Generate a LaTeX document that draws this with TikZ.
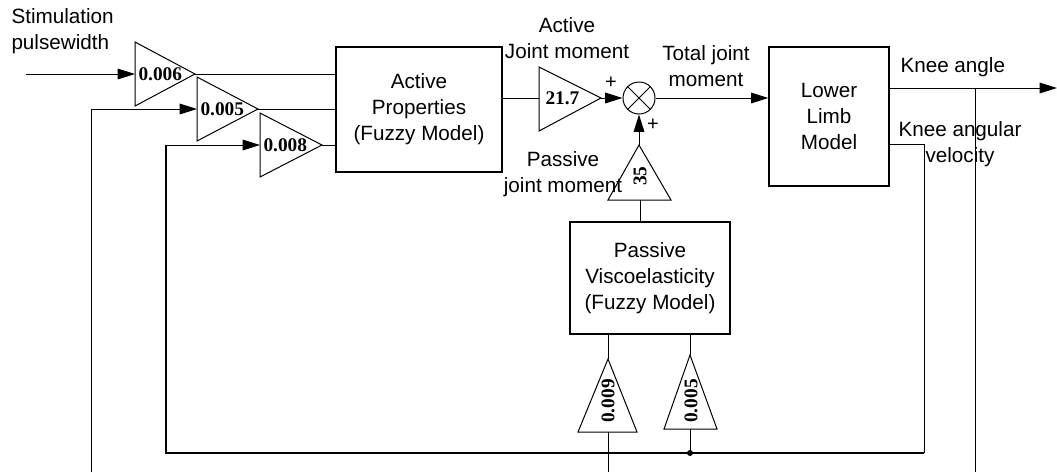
\documentclass[tikz,border=0pt]{standalone}
\usepackage{fontspec}
\setmainfont{Liberation Sans}
\newfontfamily\gainfont{Liberation Serif}
\usetikzlibrary{arrows.meta}
\newdimen\px \px=0.75pt
\begin{document}
\begin{tikzpicture}[x=0.75pt,y=-0.75pt,line width=0.75pt,
  lbl/.style={font=\fontsize{15.5}{19}\selectfont, align=center, inner sep=0},
  gaintxt/.style={font=\gainfont\bfseries\fontsize{14.5}{16}\selectfont, inner sep=0},
  block/.style={draw, line width=1pt, inner sep=0, align=center,
    font=\fontsize{15.5}{19.5}\selectfont},
  arr/.style={-{Triangle[length=13pt,width=8pt]}},
  gainshape/.style={draw, line width=0.75pt, line join=miter},
  loopline/.style={line width=1.3pt},
  sumnode/.style={draw, circle, inner sep=0, minimum size=24pt, line width=0.75pt},
  signlbl/.style={font=\fontsize{15}{15}\selectfont, inner sep=0}
]
\useasboundingbox (0,0) rectangle (1057,472);

% ---- blocks
\node[block, minimum width=166\px, minimum height=125\px] (act) at (419,109.5)
  {Active\\Properties\\(Fuzzy Model)};
\node[block, minimum width=120\px, minimum height=139\px] (limb) at (829,116.5)
  {Lower\\Limb\\Model};
\node[block, minimum width=160\px, minimum height=112\px] (pas) at (650,278)
  {Passive\\Viscoelasticity\\(Fuzzy Model)};
\node[sumnode] (sum) at (639,98) {};
\draw (sum.north west) -- (sum.south east) (sum.north east) -- (sum.south west);

% ---- gain triangles (apex = output, base centre = input)
\draw[gainshape] (135,42) -- (195,74) -- (135,106) -- cycle;
\coordinate (g1in) at (135,74); \coordinate (g1out) at (195,74);
\node[gaintxt, anchor=west] (g1) at (138,74) {0.006};

\draw[gainshape] (197,77) -- (258,109) -- (197,141) -- cycle;
\coordinate (g2in) at (197,109); \coordinate (g2out) at (258,109);
\node[gaintxt, anchor=west] (g2) at (200,109) {0.005};

\draw[gainshape] (260,113) -- (322,145) -- (260,177) -- cycle;
\coordinate (g3in) at (260,145); \coordinate (g3out) at (322,145);
\node[gaintxt, anchor=west] (g3) at (263,145) {0.008};

\draw[gainshape] (539,67) -- (601,98) -- (539,131) -- cycle;
\coordinate (gain) at (539,98); \coordinate (gaout) at (601,98);
\node[gaintxt, anchor=west] (ga) at (545,98) {21.7};

\draw[gainshape] (639,145) -- (671,200) -- (608,200) -- cycle;
\coordinate (gpout) at (639,145); \coordinate (gpin) at (640,200);
\node[gaintxt, rotate=90] (gp) at (640,176) {35};

\draw[gainshape] (608,359) -- (637,432) -- (578,432) -- cycle;
\coordinate (gkout) at (608,359); \coordinate (gkin) at (608,432);
\node[gaintxt, rotate=90] (gk) at (608,401) {0.009};

\draw[gainshape] (690,355) -- (717,429) -- (664,429) -- cycle;
\coordinate (gvout) at (690,355); \coordinate (gvin) at (690,429);
\node[gaintxt, rotate=90] (gv) at (691,401) {0.005};

% ---- free ends and corners
\coordinate (src) at (26,74);
\coordinate (fa) at (91,472);
\coordinate (fk) at (608,472);
\coordinate (fo) at (975,472);
\coordinate (out) at (1057,88);
\coordinate (ka) at (975,88);
\node[circle, fill, inner sep=0, minimum size=4.5pt] (jv) at (690,453) {};

% ---- forward path
\draw[arr] (src) -- (g1in);
\draw (g1out) -- (g1out -| act.west);
\draw (g2out) -- (g2out -| act.west);
\draw (g3out) -- (g3out -| act.west);
\draw (act.east |- gain) -- (gain);
\draw[arr] (gaout) -- (sum.west);
\draw[arr] (sum.east) -- (sum.east -| limb.west);
\draw[arr] (gpout) -- (sum.south);
\draw (pas.north -| gpin) -- (gpin);
\draw (pas.south -| gkout) -- (gkout);
\draw (pas.south -| gvout) -- (gvout);
\draw (gvin) -- (jv);
\draw (gkin) -- (fk);

% ---- outputs and feedback
\draw[arr] (limb.east |- out) -- (out);
\draw (ka) -- (fo);
\draw[arr] (fa) -- (fa |- g2in) -- (g2in);
\draw (limb.east |- 0,144) -- (924,144) -- (924,453);
\draw[loopline] (924,453) -- (166,453) -- (166,145);
\draw[arr] (166,145) -- (g3in);

% ---- labels
\node[lbl, anchor=west, align=left] (stim) at (11,31) {Stimulation\\pulsewidth};
\node[lbl] (lact) at (567,38) {Active\\Joint moment};
\node[lbl] (ltot) at (706,66) {Total joint\\moment};
\node[lbl] (lpas) at (563,174) {Passive\\joint moment};
\node[lbl, anchor=west] (lka) at (900,67) {Knee angle};
\node[lbl] (lkv) at (960,144) {Knee angular\\velocity};
\node[signlbl] (p1) at (611,83) {+};
\node[signlbl] (p2) at (653,125) {+};
\end{tikzpicture}
\end{document}
